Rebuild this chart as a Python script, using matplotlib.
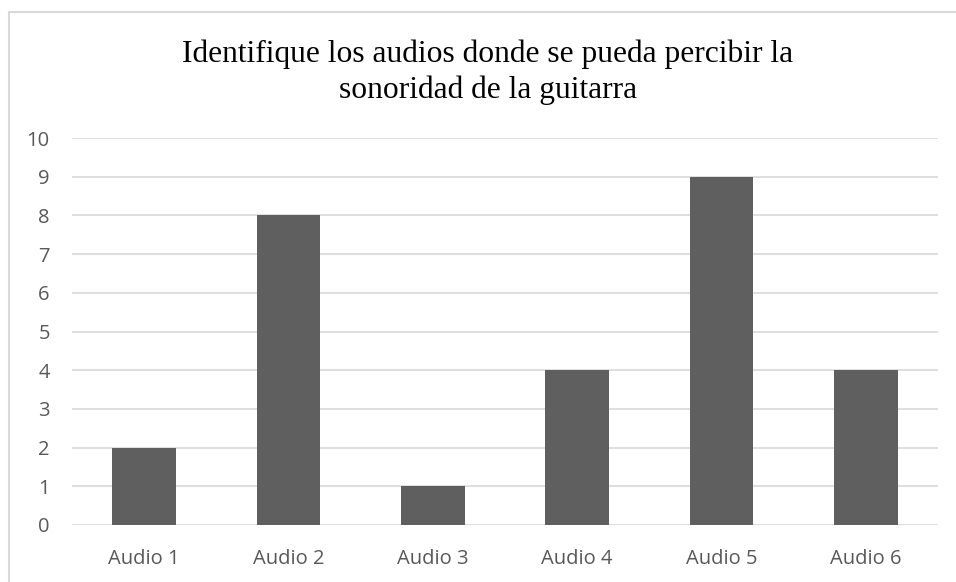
import matplotlib
matplotlib.use("Agg")
import matplotlib.pyplot as plt
from matplotlib.patches import Rectangle

categories = ["Audio 1", "Audio 2", "Audio 3", "Audio 4", "Audio 5", "Audio 6"]
values = [2, 8, 1, 4, 9, 4]
yticks = list(range(0, 11))
title_lines = ["Identifique los audios donde se pueda percibir la",
               "sonoridad de la guitarra"]

W, H = 956, 582
fig = plt.figure(figsize=(W / 100, H / 100), dpi=100)
ax = fig.add_axes([72 / W, 1 - 525 / H, (938 - 72) / W, (525 - 138) / H])

x = list(range(len(categories)))
ax.bar(x, values, width=0.44, color="#5f5f5f", zorder=3)

ax.set_xlim(-0.5, len(categories) - 0.5)
ax.set_ylim(0, 10)
ax.set_yticks(yticks)
ax.set_xticks(x)
ax.set_xticklabels(categories)
ax.grid(axis="y", color="#d9d9d9", linewidth=1.2, zorder=0)
for s in ax.spines.values():
    s.set_visible(False)
ax.tick_params(length=0, labelsize=14.5, labelcolor="#595959")
ax.tick_params(axis="x", pad=17)
ax.tick_params(axis="y", pad=16)
for lab in ax.get_xticklabels() + ax.get_yticklabels():
    lab.set_fontfamily("Open Sans")

# title, two lines placed by baseline
for line, base in zip(title_lines, [62, 98]):
    fig.text(488 / W, 1 - base / H, line, ha="center", va="baseline",
             fontsize=22.7, family="Liberation Serif")

# outer chart border (only top and left visible in the crop)
fig.patches.append(Rectangle((9 / W, -0.1), 2, 1.1 - 12 / H, transform=fig.transFigure,
                             fill=False, edgecolor="#d9d9d9", linewidth=1.5))

fig.savefig("out.png", dpi=100)
